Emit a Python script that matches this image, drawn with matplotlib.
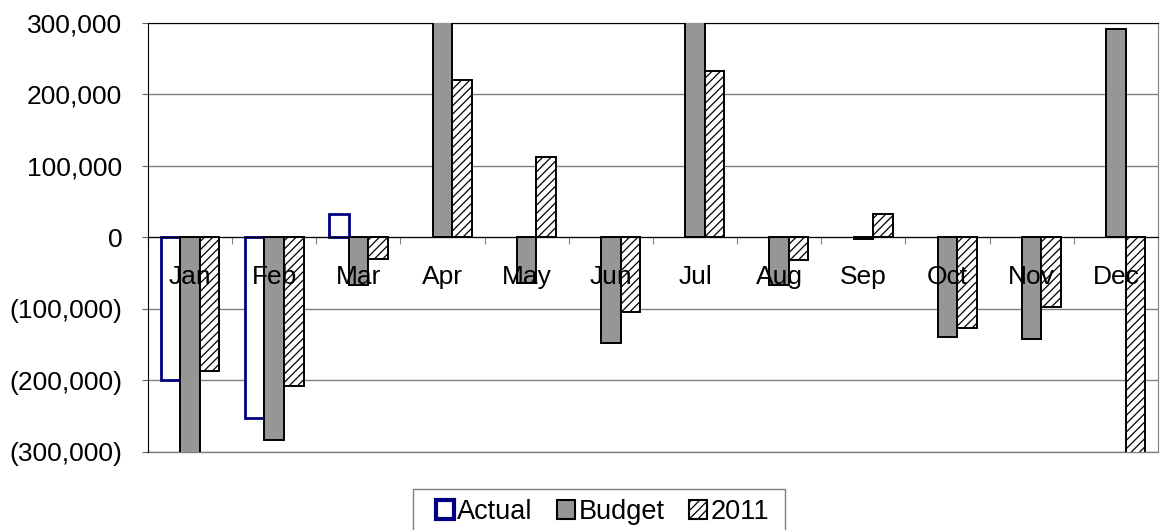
import numpy as np
import matplotlib
matplotlib.use("Agg")
from matplotlib import pyplot as plt
from matplotlib.ticker import FuncFormatter, FixedLocator
from matplotlib.patches import Patch, Rectangle

months = ['Jan', 'Feb', 'Mar', 'Apr', 'May', 'Jun',
          'Jul', 'Aug', 'Sep', 'Oct', 'Nov', 'Dec']
actual = [-199000, -253000, 33000, np.nan, np.nan, np.nan,
          np.nan, np.nan, np.nan, np.nan, np.nan, np.nan]
budget = [-305000, -283000, -66000, 340000, -64000, -148000,
          330000, -67000, -2000, -139000, -142000, 291000]
prior_2011 = [-187000, -208000, -30000, 220000, 112000, -104000,
              233000, -31000, 33000, -127000, -97000, -320000]

plt.rcParams['font.family'] = ['Liberation Sans', 'DejaVu Sans']
plt.rcParams['hatch.linewidth'] = 0.9

W, H = 1166, 530


def fmt_money(v, pos):
    if v < 0:
        return '({:,.0f})'.format(-v)
    return '{:,.0f}'.format(v)


def main():
    fig = plt.figure(figsize=(W / 100, H / 100), dpi=100)
    ax = fig.add_axes([0.1269, 0.1472, 0.8662, 0.8094])

    x = np.arange(len(months))
    w = 0.232

    ax.bar(x - w, actual, w, facecolor='white', edgecolor='#000080',
           linewidth=2.0, zorder=3)
    ax.bar(x, budget, w, facecolor='#969696', edgecolor='black',
           linewidth=1.4, zorder=3)
    ax.bar(x + w, prior_2011, w, facecolor='white', edgecolor='black',
           hatch='////', linewidth=1.4, zorder=3)

    ax.set_xlim(-0.5, len(months) - 0.5)
    ax.set_ylim(-300000, 300000)
    ax.yaxis.set_major_locator(FixedLocator(np.arange(-300000, 300001, 100000)))
    ax.yaxis.set_major_formatter(FuncFormatter(fmt_money))
    ax.grid(axis='y', color='#808080', linewidth=1.0, zorder=0)
    ax.set_axisbelow(True)
    # plot area bottom border
    ax.axhline(-300000, color='#808080', linewidth=1.0, clip_on=False, zorder=1)

    # category axis crosses at zero
    ax.spines['bottom'].set_position(('data', 0))
    ax.spines['bottom'].set_color('black')
    ax.spines['bottom'].set_zorder(4)
    ax.spines['left'].set_color('black')
    ax.spines['top'].set_color('black')
    ax.spines['right'].set_color('#808080')

    ax.set_xticks(np.arange(len(months) + 1) - 0.5)
    ax.set_xticklabels([])
    ax.tick_params(axis='x', length=5, direction='out', color='#808080')
    ax.tick_params(axis='y', length=4.5, color='#606060', labelsize=19, pad=14)

    # month names sit on top of the bars
    for i, m in enumerate(months):
        ax.annotate(m, xy=(i, 0), xytext=(0, -20), textcoords='offset points',
                    ha='center', va='top', fontsize=19, zorder=6)

    # legend box, runs off the bottom edge
    fig.patches.append(Rectangle((412.7 / W, -0.05), (785 - 412.7) / W,
                                 (1 - 489 / H) + 0.05, transform=fig.transFigure,
                                 fill=False, edgecolor='#808080', linewidth=1.0))

    handles = [
        Patch(facecolor='white', edgecolor='#000080', linewidth=3.0, label='Actual'),
        Patch(facecolor='#969696', edgecolor='black', linewidth=1.5, label='Budget'),
        Patch(facecolor='white', edgecolor='black', hatch='////', linewidth=1.5, label='2011'),
    ]
    fig.legend(handles=handles, loc='upper left',
               bbox_to_anchor=(435.7 / W, 1 - 499 / H),
               ncol=3, fontsize=19.5, frameon=False,
               handlelength=0.66, handleheight=0.66,
               handletextpad=0.13, columnspacing=0.9, borderpad=0,
               borderaxespad=0)

    fig.savefig('out.png', dpi=100)


if __name__ == '__main__':
    main()
